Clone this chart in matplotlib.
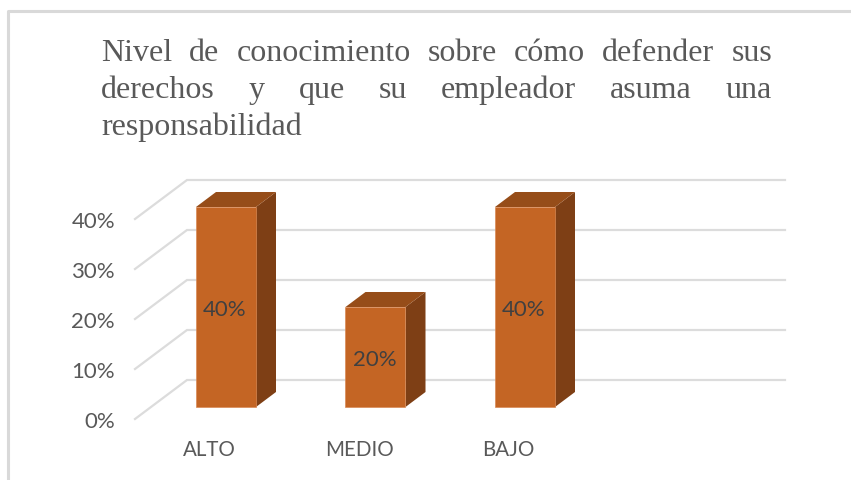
#!/bin/env python3

import matplotlib
matplotlib.use("Agg")
import matplotlib.pyplot as plt
from matplotlib.patches import Polygon

categories = ["ALTO", "MEDIO", "BAJO"]
values = [40, 20, 40]
value_labels = ["40%", "20%", "40%"]
y_ticks = [0, 10, 20, 30, 40]
y_tick_labels = ["0%", "10%", "20%", "30%", "40%"]
title_lines = [
    "Nivel de conocimiento sobre cómo defender sus",
    "derechos y que su empleador asuma una",
    "responsabilidad",
]

W, H = 851, 480
PX_X = 149.5  # pixels per category
PX_Y = 5.0    # pixels per percent
X0, Y0 = 226, 407  # pixel position of first category / zero on bar front

# bar depth and wall depth, data units
bar_w = 60 / PX_X
dx = 20 / PX_X
dy = 15 / PX_Y

fig = plt.figure(figsize=(W / 100, H / 100), dpi=100)
ax = fig.add_axes([0, 0, 1, 1])
ax.set_xlim(-X0 / PX_X, (W - X0) / PX_X)
ax.set_ylim(-(H - Y0) / PX_Y, Y0 / PX_Y)
ax.axis("off")

# outer chart frame
fig.add_artist(plt.Line2D([8 / W, 8 / W, 1], [0, 1 - 11 / H, 1 - 11 / H],
                          color="#d9d9d9", lw=2.2))

# gridlines: side wall plus back wall
grid_color = "#dcdcdc"
wall_x0 = (135 - X0) / PX_X
wall_x1 = (187 - X0) / PX_X
back_x1 = (785 - X0) / PX_X
for v, tick_label in zip(y_ticks, y_tick_labels):
    y_front = v - 12 / PX_Y
    y_back = v + 27 / PX_Y
    ax.plot([wall_x0, wall_x1, back_x1], [y_front, y_back, y_back],
            color=grid_color, lw=1.6, solid_joinstyle="miter", zorder=1)
    ax.text((115 - X0) / PX_X, y_front - 3 / PX_Y, tick_label,
            ha="right", va="center", fontsize=16, color="#595959", family="Lato")

# bars
for i, (cat, val, lab) in enumerate(zip(categories, values, value_labels)):
    x0 = i - bar_w / 2
    x1 = i + bar_w / 2
    front = [(x0, 0), (x1, 0), (x1, val), (x0, val)]
    side = [(x1, 0), (x1 + dx, dy), (x1 + dx, val + dy), (x1, val)]
    top = [(x0, val), (x1, val), (x1 + dx, val + dy), (x0 + dx, val + dy)]
    ax.add_patch(Polygon(side, closed=True, fc="#7e3f15", ec="none", zorder=3))
    ax.add_patch(Polygon(top, closed=True, fc="#964d19", ec="none", zorder=3))
    ax.add_patch(Polygon(front, closed=True, fc="#c46524", ec="#d98a55", lw=0.5, zorder=4))
    ax.text(i - 0.007, val / 2 - 3 / PX_Y, lab, ha="center", va="center", fontsize=16,
            color="#404040", family="Lato", zorder=5)
    ax.text(i - 0.11, -(450 - Y0) / PX_Y, cat, ha="center", va="center", fontsize=14.8,
            color="#595959", family="Lato")

# title, justified by hand between two pixel edges
fig.canvas.draw()
renderer = fig.canvas.get_renderer()
left_px, right_px = 101, 772
for n, line in enumerate(title_lines):
    y_fig = 1 - (61 + n * 37.2) / H
    words = line.split(" ")
    items = [fig.text(0, y_fig, w, family="Liberation Serif", fontsize=23,
                      color="#595959", ha="left", va="baseline") for w in words]
    widths = [t.get_window_extent(renderer).width for t in items]
    if len(words) > 1:
        gap = (right_px - left_px - sum(widths)) / (len(words) - 1)
    else:
        gap = 0
    x = left_px
    for t, w in zip(items, widths):
        t.set_x(x / W)
        x += w + gap

fig.savefig("out.png", dpi=100)
